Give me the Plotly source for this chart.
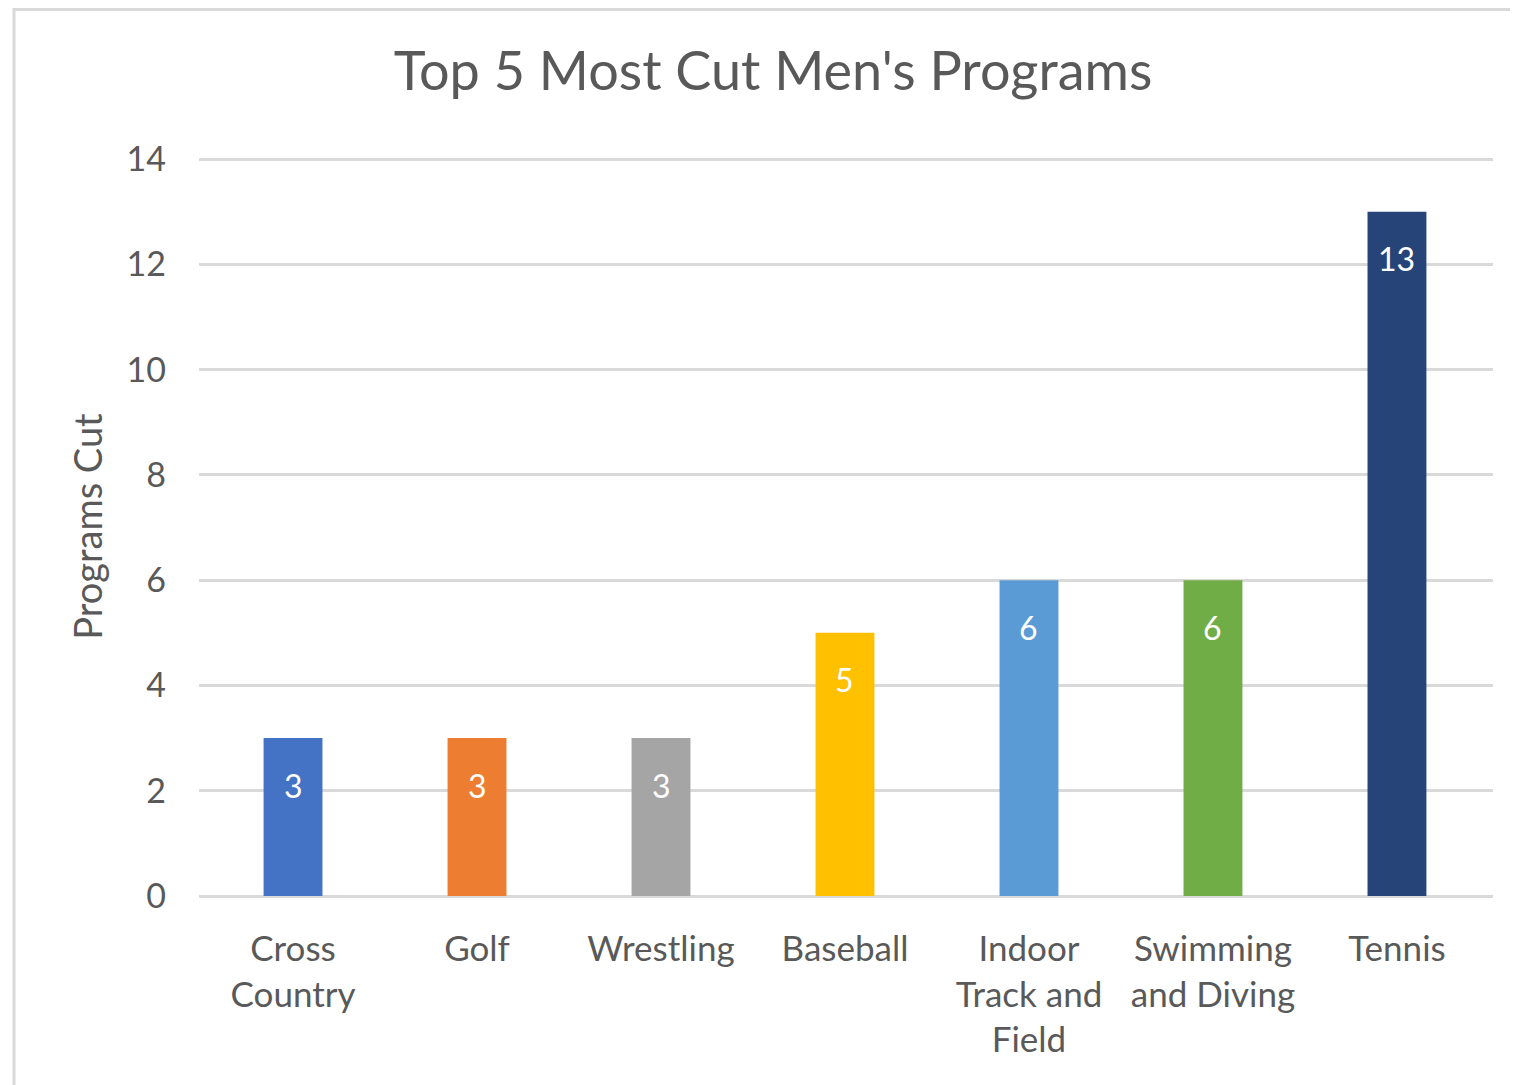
import plotly.graph_objects as go

categories = ["Cross<br>Country", "Golf", "Wrestling", "Baseball",
              "Indoor<br>Track and<br>Field", "Swimming<br>and Diving", "Tennis"]
values = [3, 3, 3, 5, 6, 6, 13]
colors = ["#4472C4", "#ED7D31", "#A5A5A5", "#FFC000", "#5B9BD5", "#70AD47", "#264478"]
y_ticks = [0, 2, 4, 6, 8, 10, 12, 14]

FONT = "Lato"
TXT = "#595959"
GRID = "#D9D9D9"

OFF = 8  # page offset of the rendered figure
W, H = 1518, 1085
L, R, T, B = 199 - OFF, 25 + OFF, 157 - OFF, 189 + OFF
pw, ph = W - L - R, H - T - B

fig = go.Figure(go.Bar(
    x=categories, y=values, marker=dict(color=colors, line=dict(width=0)),
    width=0.32, hoverinfo="skip",
))

for c, v in zip(categories, values):
    fig.add_annotation(x=c, y=v, text=str(v), showarrow=False, yanchor="middle",
                       yshift=-47, font=dict(family=FONT, size=32, color="white"))

# outer chart border (partially cropped in reference); coords in figure pixels
bx0, by1 = 14 - OFF, 1.5
fig.add_shape(type="rect", xref="paper", yref="paper",
              x0=(bx0 - L) / pw, x1=(1560 - L) / pw,
              y0=(T + ph - 1120) / ph, y1=(T + ph - by1) / ph,
              line=dict(color=GRID, width=3), layer="below")

fig.update_layout(
    width=W, height=H,
    margin=dict(l=L, r=R, t=T, b=B),
    paper_bgcolor="white", plot_bgcolor="white",
    font=dict(family=FONT, color=TXT),
    title=dict(text="Top 5 Most Cut Men's Programs", x=(773 - OFF) / W, xanchor="center",
               xref="container", y=1 - (71 - OFF) / H, yanchor="middle", yref="container",
               font=dict(size=54, color=TXT, family=FONT)),
    showlegend=False,
)
fig.update_xaxes(range=[-0.511, 6.522], showgrid=False, showline=False, zeroline=False, ticks="",
                 tickfont=dict(size=35, color=TXT, family=FONT), ticklabelstandoff=29)
fig.update_yaxes(range=[0, 14.04], tickvals=y_ticks, showgrid=True, gridcolor=GRID, gridwidth=3,
                 zeroline=True, zerolinecolor=GRID, zerolinewidth=3, showline=False,
                 ticks="", tickfont=dict(size=34, color=TXT, family=FONT), ticklabelstandoff=32,
                 title=dict(text="Programs Cut", font=dict(size=38, color=TXT, family=FONT),
                            standoff=12))

fig.write_html("out.html")
